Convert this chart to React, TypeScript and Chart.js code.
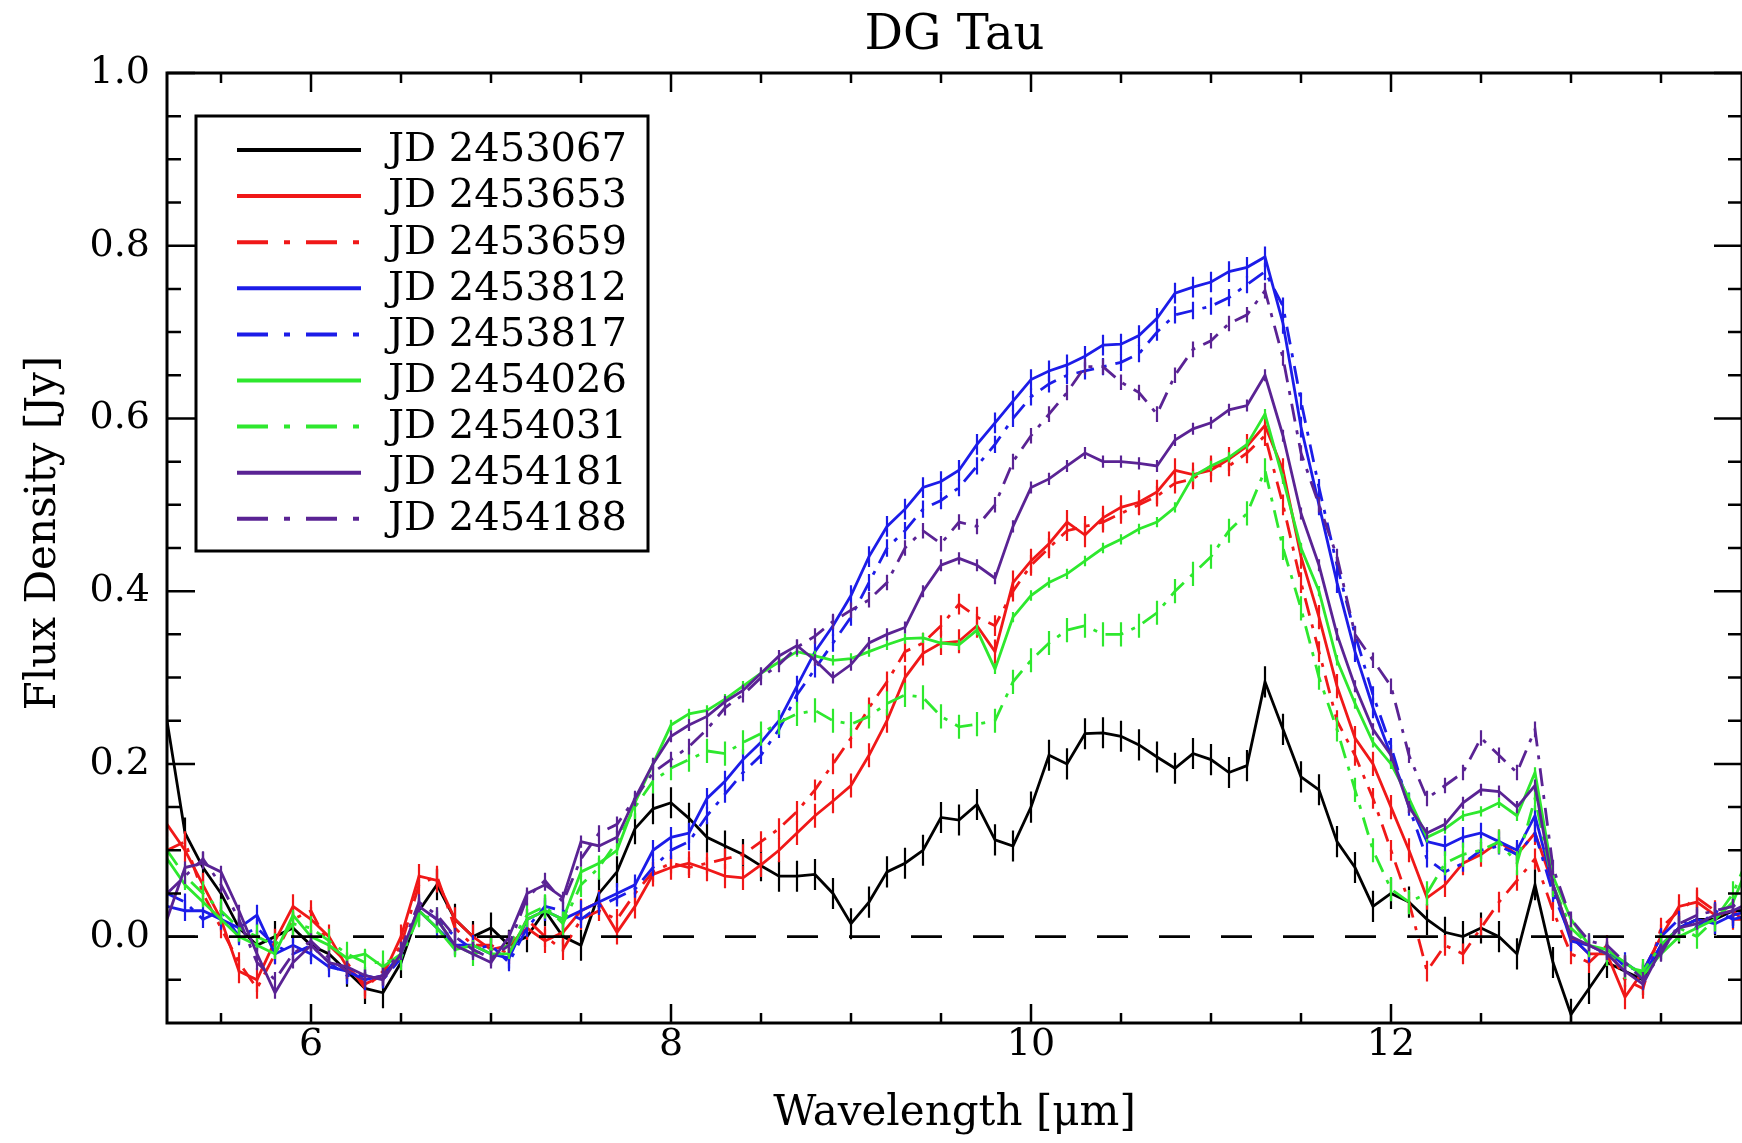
import React, { useEffect, useRef } from 'react';
import { Chart, registerables } from 'chart.js';

Chart.register(...registerables);

// ---------------- data ----------------
const wavelength = [
  5.2, 5.3, 5.4, 5.5, 5.6, 5.7, 5.8, 5.9, 6.0, 6.1,
  6.2, 6.3, 6.4, 6.5, 6.6, 6.7, 6.8, 6.9, 7.0, 7.1,
  7.2, 7.3, 7.4, 7.5, 7.6, 7.7, 7.8, 7.9, 8.0, 8.1,
  8.2, 8.3, 8.4, 8.5, 8.6, 8.7, 8.8, 8.9, 9.0, 9.1,
  9.2, 9.3, 9.4, 9.5, 9.6, 9.7, 9.8, 9.9, 10.0, 10.1,
  10.2, 10.3, 10.4, 10.5, 10.6, 10.7, 10.8, 10.9, 11.0, 11.1,
  11.2, 11.3, 11.4, 11.5, 11.6, 11.7, 11.8, 11.9, 12.0, 12.1,
  12.2, 12.3, 12.4, 12.5, 12.6, 12.7, 12.8, 12.9, 13.0, 13.1,
  13.2, 13.3, 13.4, 13.5, 13.6, 13.7, 13.8, 13.9, 14.0,
];

const jd2453067 = [
  0.25, 0.12, 0.08, 0.05, 0.01, -0.01, 0.0, 0.01, -0.01, -0.02,
  -0.04, -0.06, -0.065, -0.03, 0.03, 0.06, 0.02, 0.0, 0.01, -0.01,
  0.0, 0.03, 0.0, -0.01, 0.05, 0.075, 0.125, 0.148, 0.155, 0.137,
  0.115, 0.105, 0.095, 0.082, 0.07, 0.07, 0.072, 0.05, 0.015, 0.04,
  0.075, 0.085, 0.1, 0.138, 0.135, 0.153, 0.112, 0.105, 0.15, 0.21,
  0.2, 0.235, 0.236, 0.232, 0.222, 0.208, 0.195, 0.212, 0.205, 0.19,
  0.198, 0.295, 0.24, 0.185, 0.17, 0.11, 0.08, 0.035, 0.05, 0.04,
  0.02, 0.005, 0.0, 0.01, 0.0, -0.02, 0.06, -0.03, -0.09, -0.06,
  -0.03, -0.04, -0.05, -0.01, 0.01, 0.02, 0.02, 0.03, 0.03,
];

const jd2453653 = [
  0.13, 0.10, 0.06, 0.02, -0.04, -0.05, -0.005, 0.035, 0.02, 0.0,
  -0.035, -0.055, -0.045, 0.0, 0.07, 0.065, 0.02, 0.0, -0.015, -0.01,
  0.01, -0.005, 0.005, 0.03, 0.04, 0.005, 0.035, 0.072, 0.08, 0.085,
  0.078, 0.07, 0.068, 0.083, 0.1, 0.12, 0.14, 0.157, 0.175, 0.21,
  0.25, 0.3, 0.328, 0.34, 0.342, 0.36, 0.33, 0.41, 0.435, 0.455,
  0.48, 0.465, 0.485, 0.497, 0.503, 0.515, 0.54, 0.535, 0.54, 0.553,
  0.568, 0.592, 0.54, 0.44, 0.37, 0.29, 0.23, 0.2, 0.15, 0.1,
  0.045, 0.06, 0.085, 0.095, 0.11, 0.095, 0.12, 0.06, 0.0, -0.02,
  -0.02, -0.07, -0.04, 0.0, 0.035, 0.04, 0.025, 0.03, 0.01,
];

const jd2453659 = [
  0.1, 0.11, 0.05, 0.01, -0.03, -0.06, -0.02, 0.02, 0.03, -0.01,
  -0.03, -0.06, -0.04, -0.01, 0.06, 0.07, 0.01, -0.01, -0.01, -0.02,
  0.02, 0.0, -0.015, 0.02, 0.03, 0.02, 0.05, 0.075, 0.085, 0.08,
  0.085, 0.09, 0.095, 0.11, 0.125, 0.145, 0.17, 0.2, 0.23, 0.265,
  0.295, 0.33, 0.34, 0.36, 0.385, 0.37, 0.36, 0.4, 0.43, 0.45,
  0.47, 0.475, 0.48, 0.49, 0.5, 0.51, 0.525, 0.53, 0.545, 0.545,
  0.56, 0.58, 0.5, 0.41, 0.33, 0.25, 0.21, 0.16, 0.1, 0.04,
  -0.04, -0.01, -0.02, 0.01, 0.04, 0.065, 0.09, 0.03, -0.02, -0.03,
  -0.01, -0.05, -0.06, 0.01, 0.03, 0.045, 0.03, 0.02, 0.02,
];

const jd2453812 = [
  0.035, 0.03, 0.03, 0.02, 0.01, 0.025, -0.02, -0.01, -0.02, -0.035,
  -0.04, -0.05, -0.045, -0.02, 0.03, 0.01, -0.01, -0.01, -0.02, -0.025,
  0.02, 0.03, 0.02, 0.03, 0.04, 0.05, 0.06, 0.1, 0.115, 0.12,
  0.16, 0.18, 0.205, 0.225, 0.25, 0.29, 0.33, 0.36, 0.395, 0.44,
  0.475, 0.495, 0.52, 0.527, 0.54, 0.57, 0.595, 0.62, 0.645, 0.655,
  0.662, 0.672, 0.685, 0.686, 0.696, 0.716, 0.745, 0.752, 0.758, 0.77,
  0.775, 0.787, 0.71, 0.59, 0.5, 0.41, 0.33, 0.265, 0.21, 0.155,
  0.11, 0.105, 0.115, 0.12, 0.11, 0.1, 0.14, 0.06, -0.005, -0.01,
  -0.02, -0.03, -0.045, -0.01, 0.01, 0.02, 0.015, 0.025, 0.03,
];

const jd2453817 = [
  0.05, 0.04, 0.02, 0.03, 0.0, 0.01, -0.01, -0.02, -0.01, -0.03,
  -0.045, -0.045, -0.05, -0.025, 0.035, 0.02, 0.0, -0.015, -0.01, -0.03,
  0.01, 0.035, 0.03, 0.02, 0.035, 0.045, 0.055, 0.08, 0.1, 0.11,
  0.14, 0.165, 0.19, 0.21, 0.24, 0.28, 0.31, 0.34, 0.37, 0.41,
  0.45, 0.47, 0.495, 0.505, 0.52, 0.545, 0.57, 0.6, 0.625, 0.64,
  0.65, 0.655, 0.66, 0.665, 0.675, 0.7, 0.72, 0.725, 0.73, 0.74,
  0.755, 0.77, 0.73, 0.62, 0.52, 0.43, 0.35, 0.28, 0.22, 0.15,
  0.09, 0.075, 0.085, 0.1, 0.105, 0.095, 0.12, 0.05, 0.0, -0.02,
  -0.015, -0.035, -0.04, 0.0, 0.02, 0.01, 0.03, 0.02, 0.025,
];

const jd2454026 = [
  0.09, 0.06, 0.04, 0.02, 0.0, -0.01, -0.02, 0.025, 0.0, -0.01,
  -0.025, -0.02, -0.035, -0.02, 0.03, 0.01, -0.015, -0.01, -0.02, -0.02,
  0.02, 0.03, 0.02, 0.075, 0.085, 0.1, 0.155, 0.2, 0.245, 0.258,
  0.262, 0.275, 0.29, 0.305, 0.318, 0.33, 0.325, 0.32, 0.322, 0.33,
  0.338, 0.345, 0.346, 0.34, 0.338, 0.355, 0.31, 0.37, 0.395, 0.41,
  0.42, 0.435, 0.45, 0.46, 0.472, 0.48, 0.497, 0.533, 0.545, 0.555,
  0.57, 0.605, 0.53, 0.45, 0.4, 0.32, 0.27, 0.225, 0.2, 0.16,
  0.115, 0.125, 0.14, 0.145, 0.155, 0.14, 0.19, 0.07, 0.02, -0.01,
  -0.015, -0.03, -0.045, -0.02, 0.0, 0.01, 0.02, 0.04, 0.09,
];

const jd2454031 = [
  0.1, 0.07, 0.05, 0.03, 0.01, 0.0, -0.01, 0.015, 0.01, -0.005,
  -0.02, -0.03, -0.03, -0.025, 0.025, 0.02, -0.01, -0.02, -0.015, -0.01,
  0.025, 0.035, 0.015, 0.06, 0.08, 0.11, 0.15, 0.18, 0.195, 0.205,
  0.215, 0.212, 0.225, 0.235, 0.248, 0.258, 0.262, 0.25, 0.246, 0.255,
  0.27, 0.28, 0.277, 0.255, 0.243, 0.246, 0.25, 0.295, 0.32, 0.34,
  0.355, 0.36, 0.35, 0.35, 0.36, 0.375, 0.4, 0.42, 0.44, 0.47,
  0.49, 0.54, 0.45, 0.38, 0.3, 0.24, 0.17, 0.1, 0.055, 0.04,
  0.05, 0.085, 0.095, 0.1, 0.11, 0.085, 0.16, 0.06, 0.01, -0.01,
  -0.02, -0.035, -0.04, -0.01, 0.01, 0.0, 0.02, 0.05, 0.1,
];

const jd2454181 = [
  0.02, 0.08, 0.085, 0.075, 0.03, -0.02, -0.065, -0.03, -0.01, -0.03,
  -0.035, -0.045, -0.05, -0.02, 0.035, 0.02, -0.01, -0.02, -0.03, 0.0,
  0.05, 0.06, 0.045, 0.11, 0.105, 0.115, 0.16, 0.2, 0.232, 0.245,
  0.255, 0.272, 0.285, 0.305, 0.325, 0.337, 0.32, 0.3, 0.315, 0.34,
  0.35, 0.358, 0.4, 0.43, 0.438, 0.43, 0.415, 0.475, 0.52, 0.53,
  0.545, 0.56, 0.55, 0.55, 0.548, 0.545, 0.575, 0.588, 0.595, 0.61,
  0.615, 0.65, 0.58, 0.49, 0.43, 0.35, 0.29, 0.24, 0.21, 0.15,
  0.12, 0.13, 0.155, 0.17, 0.168, 0.15, 0.175, 0.06, 0.0, -0.01,
  -0.02, -0.04, -0.055, -0.015, 0.01, 0.015, 0.025, 0.03, 0.04,
];

const jd2454188 = [
  0.05, 0.07, 0.09, 0.06, 0.02, -0.03, -0.05, -0.02, -0.005, -0.025,
  -0.04, -0.05, -0.045, -0.015, 0.04, 0.025, 0.0, -0.015, -0.025, -0.01,
  0.045, 0.065, 0.04, 0.09, 0.12, 0.13, 0.16, 0.19, 0.205, 0.22,
  0.24, 0.265, 0.28, 0.3, 0.315, 0.335, 0.348, 0.365, 0.378, 0.39,
  0.41, 0.45, 0.47, 0.455, 0.48, 0.475, 0.5, 0.55, 0.58, 0.605,
  0.63, 0.66, 0.66, 0.642, 0.63, 0.605, 0.65, 0.68, 0.69, 0.71,
  0.72, 0.748, 0.67, 0.56, 0.5, 0.44, 0.35, 0.32, 0.29, 0.21,
  0.16, 0.175, 0.19, 0.23, 0.21, 0.19, 0.24, 0.08, 0.02, -0.005,
  -0.01, -0.03, -0.05, -0.02, 0.015, 0.025, 0.03, 0.035, 0.05,
];

const seriesLabels = [
  'JD 2453067', 'JD 2453653', 'JD 2453659', 'JD 2453812', 'JD 2453817',
  'JD 2454026', 'JD 2454031', 'JD 2454181', 'JD 2454188',
];
const seriesColors = [
  '#000000', '#f01818', '#f01818', '#1c1ce8', '#1c1ce8',
  '#2ee82e', '#2ee82e', '#5a2394', '#5a2394',
];
const seriesDashDot = [false, false, true, false, true, false, true, false, true];
// typical half-length of the error bars of each spectrum [Jy]
const errorSizes = [0.018, 0.014, 0.012, 0.012, 0.01, 0.006, 0.014, 0.007, 0.009];

const xRange = [5.2, 13.95];
const yRange = [-0.1, 1.0];
const zeroLineX = [5.2, 14.0];
const zeroLevel = 0;
const xMajorTicks = [6, 8, 10, 12];
const xMinorTicks = [5.5, 6.5, 7, 7.5, 8.5, 9, 9.5, 10.5, 11, 11.5, 12.5, 13, 13.5];
const yMajorTicks = [0, 0.2, 0.4, 0.6, 0.8, 1.0];
const yMinorTicks = [-0.05, 0.05, 0.1, 0.15, 0.25, 0.3, 0.35, 0.45, 0.5, 0.55, 0.65, 0.7, 0.75, 0.85, 0.9, 0.95];

const titleText = 'DG Tau';
const xTitle = 'Wavelength [\u03bcm]';
const yTitle = 'Flux Density [Jy]';

const FONT = '"DejaVu Serif", "Liberation Serif", serif';
const plotDash = [18, 9, 4, 9];
const legendDash = [31, 16, 6, 16];

export default function App() {
  const ref = useRef<HTMLCanvasElement>(null);

  useEffect(() => {
    const canvas = ref.current;
    if (!canvas) return;
    const series = [
      jd2453067, jd2453653, jd2453659, jd2453812, jd2453817,
      jd2454026, jd2454031, jd2454181, jd2454188,
    ];

    const datasets: any[] = series.map((vals, i) => ({
      label: seriesLabels[i],
      data: vals.map((v, k) => ({ x: wavelength[k], y: v })),
      borderColor: seriesColors[i],
      backgroundColor: seriesColors[i],
      borderWidth: 2.8,
      borderDash: seriesDashDot[i] ? plotDash : [],
      pointRadius: 0,
      tension: 0,
      fill: false,
      order: series.length - i,
      errorSize: errorSizes[i],
      dashDot: seriesDashDot[i],
    }));
    datasets.push({
      label: 'zero',
      data: zeroLineX.map((x) => ({ x, y: zeroLevel })),
      borderColor: '#000000',
      borderWidth: 2.6,
      borderDash: [31, 31],
      pointRadius: 0,
      fill: false,
      order: 0,
      isReference: true,
    });

    const errorBarPlugin = {
      id: 'errorBars',
      afterDatasetDraw(chart: any, args: any) {
        const ds = chart.data.datasets[args.index];
        if (!ds || !ds.errorSize) return;
        const ctx = chart.ctx;
        const xs = chart.scales.x;
        const ys = chart.scales.y;
        const ca = chart.chartArea;
        ctx.save();
        ctx.beginPath();
        ctx.rect(ca.left, ca.top, ca.right - ca.left, ca.bottom - ca.top);
        ctx.clip();
        ctx.strokeStyle = ds.borderColor;
        ctx.lineWidth = 2.2;
        ctx.setLineDash([]);
        ctx.beginPath();
        ds.data.forEach((p: any) => {
          const px = xs.getPixelForValue(p.x);
          ctx.moveTo(px, ys.getPixelForValue(p.y - ds.errorSize));
          ctx.lineTo(px, ys.getPixelForValue(p.y + ds.errorSize));
        });
        ctx.stroke();
        ctx.restore();
      },
    };

    const framePlugin = {
      id: 'frameAndLegend',
      afterDraw(chart: any) {
        const ctx = chart.ctx;
        const ca = chart.chartArea;
        const xs = chart.scales.x;
        const ys = chart.scales.y;
        ctx.save();
        ctx.setLineDash([]);
        ctx.strokeStyle = '#000';
        ctx.lineWidth = 3;
        ctx.strokeRect(ca.left, ca.top, ca.right - ca.left, ca.bottom - ca.top);

        ctx.lineWidth = 2.5;
        ctx.beginPath();
        const xTick = (v: number, len: number) => {
          const px = xs.getPixelForValue(v);
          ctx.moveTo(px, ca.bottom);
          ctx.lineTo(px, ca.bottom - len);
          ctx.moveTo(px, ca.top);
          ctx.lineTo(px, ca.top + len);
        };
        const yTick = (v: number, len: number) => {
          const py = ys.getPixelForValue(v);
          ctx.moveTo(ca.left, py);
          ctx.lineTo(ca.left + len, py);
          ctx.moveTo(ca.right, py);
          ctx.lineTo(ca.right - len, py);
        };
        xMajorTicks.forEach((v) => xTick(v, 19));
        xMinorTicks.forEach((v) => xTick(v, 10));
        yMajorTicks.forEach((v) => yTick(v, 28));
        yMinorTicks.forEach((v) => yTick(v, 14));
        ctx.stroke();

        // titles
        ctx.fillStyle = '#000';
        ctx.textAlign = 'center';
        ctx.textBaseline = 'middle';
        ctx.font = `48px ${FONT}`;
        ctx.fillText(titleText, (ca.left + ca.right) / 2, 37);
        ctx.font = `42px ${FONT}`;
        ctx.fillText(xTitle, (ca.left + ca.right) / 2, 1114);
        ctx.save();
        ctx.translate(44, 533);
        ctx.rotate(-Math.PI / 2);
        ctx.fillText(yTitle, 0, 0);
        ctx.restore();

        // legend
        const bx = ca.left + 29;
        const by = ca.top + 43;
        const bw = 452;
        const bh = 435;
        ctx.fillStyle = '#fff';
        ctx.fillRect(bx, by, bw, bh);
        ctx.lineWidth = 3;
        ctx.strokeStyle = '#000';
        ctx.strokeRect(bx, by, bw, bh);
        ctx.font = `40px ${FONT}`;
        ctx.textAlign = 'left';
        ctx.textBaseline = 'middle';
        const items = chart.data.datasets.filter((d: any) => !d.isReference);
        items.forEach((d: any, i: number) => {
          const ry = by + 34 + i * 46.1;
          ctx.strokeStyle = d.borderColor;
          ctx.lineWidth = 4;
          ctx.setLineDash(d.dashDot ? legendDash : []);
          ctx.beginPath();
          ctx.moveTo(bx + 41, ry);
          ctx.lineTo(bx + 165, ry);
          ctx.stroke();
          ctx.setLineDash([]);
          ctx.fillStyle = '#000';
          ctx.fillText(d.label, bx + 192, ry + 1);
        });
        ctx.restore();
      },
    };

    const chart = new Chart(canvas, {
      type: 'line',
      data: { datasets },
      options: {
        animation: false,
        responsive: false,
        maintainAspectRatio: false,
        devicePixelRatio: 1,
        events: [],
        layout: { padding: { top: 73, right: 0, left: 0, bottom: 0 } },
        plugins: {
          legend: { display: false },
          title: { display: false },
          tooltip: { enabled: false },
        },
        scales: {
          x: {
            type: 'linear',
            min: xRange[0],
            max: xRange[1],
            grid: { display: false, drawTicks: false },
            border: { display: false },
            afterBuildTicks: (s: any) => {
              s.ticks = xMajorTicks.map((v) => ({ value: v }));
            },
            afterFit: (s: any) => {
              s.height = 120;
            },
            ticks: {
              autoSkip: false,
              maxRotation: 0,
              padding: 3,
              color: '#000',
              font: { family: FONT, size: 38, lineHeight: 1 },
              callback: (v: any) => String(v),
            },
          },
          y: {
            type: 'linear',
            min: yRange[0],
            max: yRange[1],
            grid: { display: false, drawTicks: false },
            border: { display: false },
            afterBuildTicks: (s: any) => {
              s.ticks = yMajorTicks.map((v) => ({ value: v }));
            },
            afterFit: (s: any) => {
              s.width = 167;
            },
            ticks: {
              autoSkip: false,
              padding: 17,
              color: '#000',
              font: { family: FONT, size: 38 },
              callback: (v: any) => Number(v).toFixed(1),
            },
          },
        },
      } as any,
      plugins: [errorBarPlugin, framePlugin],
    });

    return () => chart.destroy();
  }, []);

  return (
    <div
      style={{
        position: 'absolute',
        left: 0,
        top: 0,
        width: 1742,
        height: 1143,
        overflow: 'hidden',
        background: '#fff',
      }}
    >
      <canvas ref={ref} width={1742} height={1143} style={{ display: 'block' }} />
    </div>
  );
}
